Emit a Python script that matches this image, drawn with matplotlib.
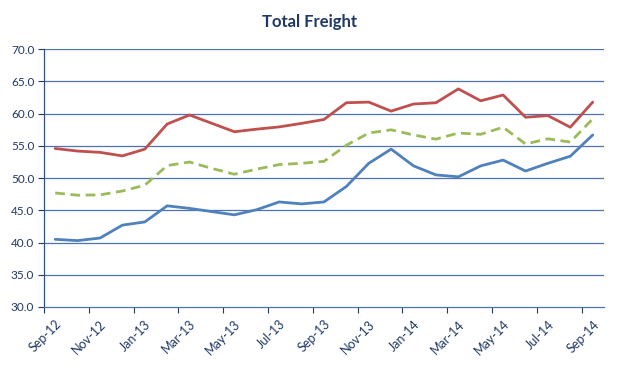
import numpy as np
import matplotlib.pyplot as plt
from matplotlib.ticker import FixedLocator, FormatStrFormatter

# Monthly data, Sep-12 .. Sep-14
months = ["Sep-12", "Oct-12", "Nov-12", "Dec-12", "Jan-13", "Feb-13", "Mar-13",
          "Apr-13", "May-13", "Jun-13", "Jul-13", "Aug-13", "Sep-13", "Oct-13",
          "Nov-13", "Dec-13", "Jan-14", "Feb-14", "Mar-14", "Apr-14", "May-14",
          "Jun-14", "Jul-14", "Aug-14", "Sep-14"]

red_vals = [54.6, 54.2, 54.0, 53.45, 54.5, 58.4, 59.8, 58.5, 57.2, 57.6, 57.95,
            58.5, 59.1, 61.7, 61.8, 60.4, 61.5, 61.7, 63.85, 62.0, 62.9, 59.45,
            59.7, 57.9, 61.8]
green_vals = [47.7, 47.35, 47.4, 48.0, 48.9, 51.95, 52.5, 51.5, 50.6, 51.4, 52.1,
              52.3, 52.6, 55.1, 57.0, 57.5, 56.7, 56.05, 57.0, 56.8, 57.9, 55.3,
              56.1, 55.6, 59.2]
blue_vals = [40.5, 40.3, 40.7, 42.7, 43.2, 45.7, 45.3, 44.8, 44.3, 45.1, 46.3,
             46.0, 46.3, 48.7, 52.3, 54.5, 51.9, 50.5, 50.2, 51.9, 52.8, 51.1,
             52.3, 53.4, 56.7]

yticks = [30, 35, 40, 45, 50, 55, 60, 65, 70]

col_red = "#C0504D"
col_green = "#9BBB59"
col_blue = "#4F81BD"
col_text = "#1F3864"
col_grid = "#4F72B0"

plt.rcParams["font.family"] = ["Lato", "DejaVu Sans"]

fig = plt.figure(figsize=(6.18, 3.65), dpi=100)
ax = fig.add_axes([0.0712, 0.159, 0.906, 0.706])

x = np.arange(len(months))
ax.plot(x, red_vals, color=col_red, lw=2.0, zorder=4, solid_capstyle="round")
ax.plot(x, green_vals, color=col_green, lw=2.0, zorder=4, linestyle=(0, (3.5, 2)))
ax.plot(x, blue_vals, color=col_blue, lw=2.0, zorder=4, solid_capstyle="round")

ax.set_xlim(-0.5, len(months) - 0.5)
ax.set_ylim(30, 70)

# horizontal gridlines
for v in yticks[1:]:
    ax.axhline(v, color=col_grid, lw=0.9, zorder=1)

ax.set_yticks(yticks)
ax.yaxis.set_major_formatter(FormatStrFormatter("%.1f"))
ax.tick_params(axis="y", direction="out", length=4, width=0.8, color=col_text,
               labelsize=8.5, labelcolor=col_text, pad=3)

# category labels every 2 months at centers, tick marks at category boundaries
ax.set_xticks(x[::2])
ax.set_xticklabels(months[::2], rotation=45, ha="right", rotation_mode="anchor")
ax.tick_params(axis="x", which="major", length=0, labelsize=9, labelcolor=col_text, pad=8)
ax.xaxis.set_minor_locator(FixedLocator(np.arange(-0.5, len(months) - 1, 2)))
ax.tick_params(axis="x", which="minor", direction="out", length=4, width=0.8, color=col_text)

for side in ["top", "right"]:
    ax.spines[side].set_visible(False)
ax.spines["left"].set_color("#2F4F8F")
ax.spines["bottom"].set_color(col_grid)
ax.spines["left"].set_linewidth(0.9)
ax.spines["bottom"].set_linewidth(0.9)

fig.text(0.5, 0.94, "Total Freight", ha="center", va="center", fontsize=12,
         fontweight="bold", color=col_text)

fig.savefig("out.png", dpi=100)
